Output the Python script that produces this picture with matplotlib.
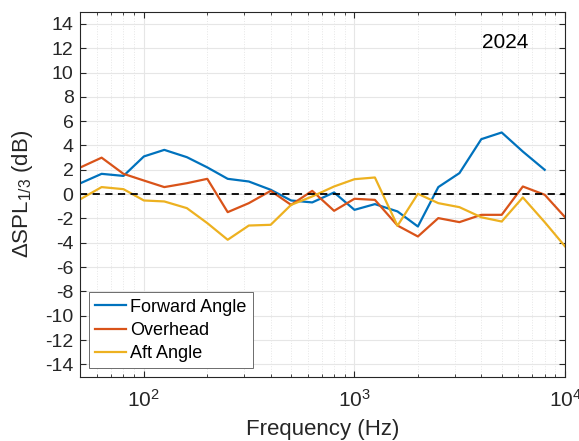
import numpy as np
import matplotlib
matplotlib.use("Agg")
import matplotlib.pyplot as plt
from matplotlib.ticker import LogLocator, NullFormatter

plt.rcParams["font.family"] = ["Liberation Sans", "DejaVu Sans"]
plt.rcParams["mathtext.fontset"] = "custom"
plt.rcParams["mathtext.rm"] = "Liberation Sans"
plt.rcParams["mathtext.it"] = "Liberation Sans"
plt.rcParams["axes.unicode_minus"] = False

# One-third octave band centres (Hz)
freq = [50, 63, 80, 100, 125, 160, 200, 250, 315, 400, 500, 630, 800,
        1000, 1250, 1600, 2000, 2500, 3150, 4000, 5000, 6300, 8000, 10000]

forward = [0.9, 1.67, 1.5, 3.1, 3.64, 3.04, 2.2, 1.26, 1.04, 0.36, -0.52, -0.68,
           0.14, -1.29, -0.82, -1.42, -2.66, 0.58, 1.73, 4.52, 5.07, 3.5, 2.0]
overhead = [2.2, 3.0, 1.67, 1.12, 0.58, 0.9, 1.26, -1.48, -0.74, 0.27, -0.88, 0.27,
            -1.37, -0.38, -0.47, -2.58, -3.48, -1.97, -2.3, -1.7, -1.7, 0.63,
            -0.05, -1.9]
aft = [-0.41, 0.58, 0.41, -0.52, -0.6, -1.15, -2.38, -3.75, -2.58, -2.52, -0.88,
       -0.19, 0.63, 1.23, 1.37, -2.6, 0.03, -0.74, -1.07, -1.9, -2.25, -0.27,
       -2.3, -4.3]

series = [("Forward Angle", forward, "#0072BD"),
          ("Overhead", overhead, "#D95319"),
          ("Aft Angle", aft, "#EDB120")]

INK = "#262626"

fig = plt.figure(figsize=(5.79, 4.41), dpi=100)
ax = fig.add_axes([0.139, 0.146, 0.837, 0.8275])

for name, vals, col in series:
    ax.plot(freq[:len(vals)], vals, color=col, lw=1.6, label=name)

ax.axhline(0, color="black", ls=(0, (4, 3)), lw=1.3)

ax.set_xscale("log")
ax.set_xlim(50, 10000)
ax.set_ylim(-15, 15)
ax.set_yticks(np.arange(-14, 15, 2))
ax.xaxis.set_major_locator(LogLocator(base=10, numticks=10))
ax.xaxis.set_minor_locator(LogLocator(base=10, subs=np.arange(2, 10), numticks=10))
ax.xaxis.set_minor_formatter(NullFormatter())

ax.grid(which="major", color="#e6e6e6", lw=0.8)
ax.grid(which="minor", axis="x", color="#e6e6e6", lw=0.7, ls=":")
ax.set_axisbelow(True)

ax.tick_params(which="both", direction="in", top=True, right=True,
               colors=INK, labelcolor=INK)
ax.tick_params(which="major", length=4)
ax.tick_params(which="minor", length=2.5)
ax.tick_params(axis="y", labelsize=14, pad=5)
ax.tick_params(axis="x", labelsize=15, pad=9)
for sp in ax.spines.values():
    sp.set_color(INK)
    sp.set_linewidth(0.8)

ax.set_xlabel("Frequency (Hz)", fontsize=16, color=INK, labelpad=6)
ax.set_ylabel(r"ΔSPL$_{1/3}$ (dB)", fontsize=16, color=INK, labelpad=7)

ax.text(0.876, 0.916, "2024", transform=ax.transAxes, fontsize=15,
        ha="center", va="center", color="black")

leg = ax.legend(loc="lower left", fontsize=13, frameon=True, fancybox=False,
                edgecolor="#555555", framealpha=1, handlelength=1.7,
                handletextpad=0.25, borderaxespad=0.45, borderpad=0.35,
                labelspacing=0.35)
leg.get_frame().set_linewidth(0.6)

fig.savefig("out.png", dpi=100, facecolor="white")
